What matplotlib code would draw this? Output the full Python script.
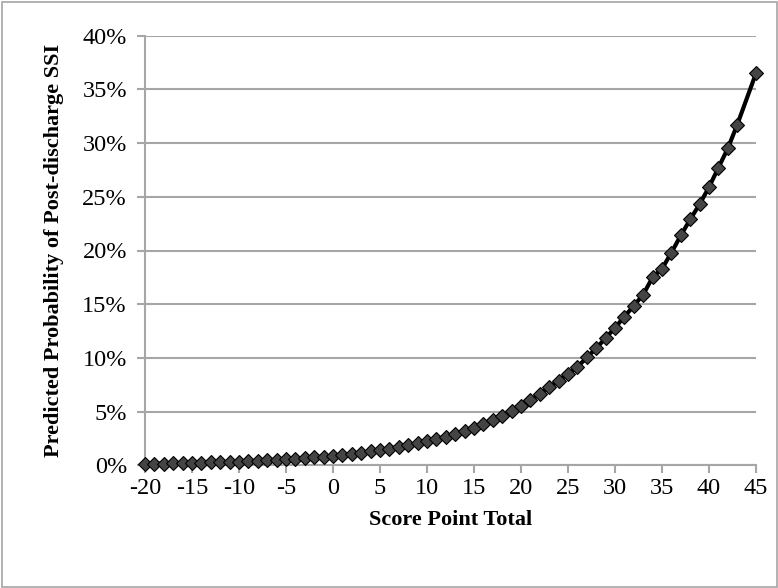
import matplotlib
matplotlib.use("Agg")
import matplotlib.pyplot as plt
from matplotlib.patches import Rectangle
from matplotlib.ticker import FuncFormatter, MultipleLocator

score = [-20, -19, -18, -17, -16, -15, -14, -13, -12, -11,
         -10, -9, -8, -7, -6, -5, -4, -3, -2, -1,
         0, 1, 2, 3, 4, 5, 6, 7, 8, 9,
         10, 11, 12, 13, 14, 15, 16, 17, 18, 19,
         20, 21, 22, 23, 24, 25, 26, 27, 28, 29,
         30, 31, 32, 33, 34, 35, 36, 37, 38, 39,
         40, 41, 42, 43, 45]
prob_pct = [0.14, 0.15, 0.17, 0.19, 0.21, 0.23, 0.25, 0.27, 0.30, 0.33,
            0.36, 0.39, 0.43, 0.47, 0.52, 0.57, 0.62, 0.68, 0.75, 0.82,
            0.90, 0.99, 1.08, 1.19, 1.30, 1.42, 1.56, 1.71, 1.87, 2.05,
            2.24, 2.45, 2.68, 2.93, 3.20, 3.50, 3.83, 4.19, 4.60, 5.03,
            5.55, 6.10, 6.65, 7.25, 7.90, 8.55, 9.15, 10.05, 10.90, 11.85,
            12.80, 13.85, 14.85, 15.90, 17.50, 18.30, 19.80, 21.40, 22.90, 24.30,
            25.90, 27.70, 29.50, 31.70, 36.50]

plt.rcParams['font.family'] = ['Liberation Serif', 'DejaVu Serif']
plt.rcParams['axes.unicode_minus'] = False

W, H = 778, 588
fig = plt.figure(figsize=(W / 100, H / 100), dpi=100)
fig.patch.set_facecolor('white')
fig.patches.append(Rectangle((1.5 / W, 1.5 / H), 1 - 3 / W, 1 - 3 / H,
                             transform=fig.transFigure, fill=False,
                             edgecolor='#a6a6a6', linewidth=1.2))

left, right = 145 / W, 756 / W
top, bottom = 1 - 35.6 / H, 1 - 465.4 / H
ax = fig.add_axes([left, bottom, right - left, top - bottom])

ax.plot(score, prob_pct, color='black', linewidth=3, marker='D',
        markersize=7, markerfacecolor='#444444', markeredgecolor='black',
        markeredgewidth=0.8, zorder=3, clip_on=False)

ax.set_xlim(-20, 45)
ax.set_ylim(0, 40)
ax.xaxis.set_major_locator(MultipleLocator(5))
ax.yaxis.set_major_locator(MultipleLocator(5))
ax.yaxis.set_major_formatter(FuncFormatter(lambda v, p: f"{int(round(v))}%"))

ax.grid(axis='y', color='#a6a6a6', linewidth=1.5)
ax.set_axisbelow(True)
for s in ['top', 'right']:
    ax.spines[s].set_visible(False)
for s in ['left', 'bottom']:
    ax.spines[s].set_color('#a6a6a6')
    ax.spines[s].set_linewidth(1.5)

ax.tick_params(axis='both', which='major', direction='out', length=6,
               width=1.5, color='#a6a6a6', labelsize=17.5, labelcolor='black')
ax.tick_params(axis='x', pad=3)
ax.tick_params(axis='y', pad=7)

ax.set_xlabel('Score Point Total', fontsize=16, fontweight='bold', labelpad=8)
ax.set_ylabel('Predicted Probability of Post-discharge SSI', fontsize=16,
              fontweight='bold', labelpad=13)

fig.savefig('out.png', dpi=100, facecolor='white')
